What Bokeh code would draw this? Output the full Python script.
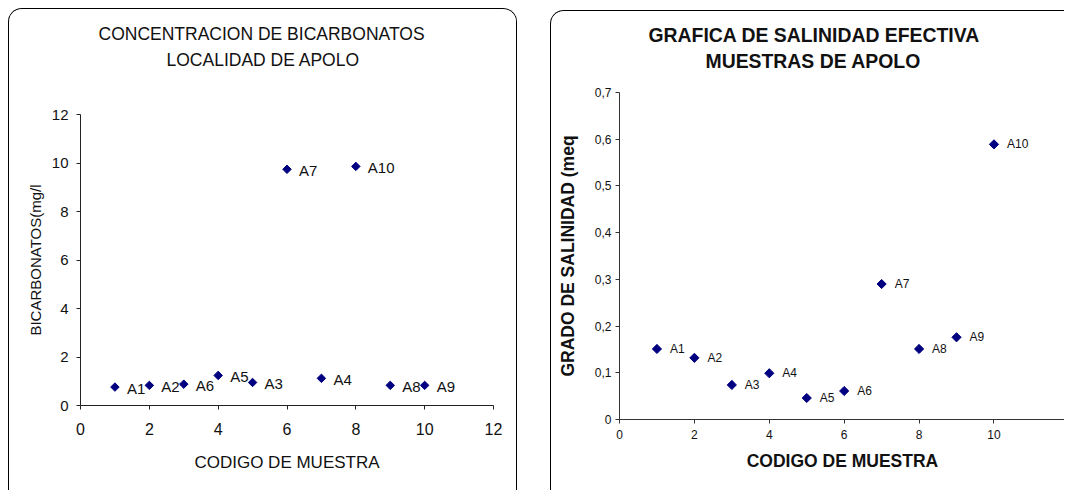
from bokeh.plotting import figure
from bokeh.models import (Range1d, FixedTicker, CustomJSTickFormatter, Title,
                          ColumnDataSource)
from bokeh.embed import file_html
from bokeh.resources import INLINE
from bokeh.core.properties import value

# ---- data: left chart (bicarbonatos) ----
bic_x = [1, 2, 3, 4, 5, 6, 7, 8, 9, 10]
bic_y = [0.76, 0.83, 0.88, 1.24, 0.95, 9.74, 1.12, 9.86, 0.83, 0.83]
bic_labels = ["A1", "A2", "A6", "A5", "A3", "A7", "A4", "A10", "A8", "A9"]
bic_xticks = [0, 2, 4, 6, 8, 10, 12]
bic_yticks = [0, 2, 4, 6, 8, 10, 12]
bic_title = ["CONCENTRACION DE  BICARBONATOS", "LOCALIDAD DE APOLO"]

# ---- data: right chart (salinidad efectiva) ----
sal_x = [1, 2, 3, 4, 5, 6, 7, 8, 9, 10]
sal_y = [0.151, 0.132, 0.074, 0.099, 0.046, 0.061, 0.290, 0.151, 0.176, 0.589]
sal_labels = ["A1", "A2", "A3", "A4", "A5", "A6", "A7", "A8", "A9", "A10"]
sal_xticks = [0, 2, 4, 6, 8, 10, 12]
sal_yticks = [0, 0.1, 0.2, 0.3, 0.4, 0.5, 0.6, 0.7]
sal_title = ["GRAFICA DE SALINIDAD EFECTIVA", "MUESTRAS DE APOLO"]

FONT = "Liberation Sans"
NAVY = "#000080"
TXT = "#111111"


def style_axes(p, tick_standoff_x, tick_standoff_y, axis_col):
    for ax in (p.xaxis[0], p.yaxis[0]):
        ax.axis_line_color = axis_col
        ax.major_tick_line_color = axis_col
        ax.major_tick_out = 4
        ax.major_tick_in = 0
        ax.minor_tick_line_color = None
        ax.major_label_text_font = FONT
        ax.major_label_text_color = TXT
        ax.axis_label_text_font = FONT
        ax.axis_label_text_color = TXT
        ax.axis_label_text_font_style = "normal"
    p.xaxis[0].major_label_standoff = tick_standoff_x
    p.yaxis[0].major_label_standoff = tick_standoff_y
    p.xgrid.grid_line_color = None
    p.ygrid.grid_line_color = None
    p.outline_line_color = None


def add_titles(p, lines, size, style, gap, offsets, standoffs):
    # line 2 is added first (closest to the frame); it is top-aligned in its
    # panel and its bottom padding leaves the band above the plot area
    p.add_layout(Title(text=lines[1], align="left", offset=offsets[1],
                       vertical_align="top", text_font=FONT,
                       text_font_size=size, text_font_style=style,
                       text_color=TXT, standoff=standoffs[1],
                       padding=dict(left=0, right=0, top=0, bottom=gap)),
                 "above")
    p.add_layout(Title(text=lines[0], align="left", offset=offsets[0],
                       text_font=FONT, text_font_size=size,
                       text_font_style=style, text_color=TXT,
                       standoff=standoffs[0]), "above")


# ---------------- left figure ----------------
p1 = figure(width=509, height=482, output_backend="svg", toolbar_location=None,
            x_range=Range1d(0, 12), y_range=Range1d(0, 12),
            min_border_left=71, min_border_right=25, min_border_top=105,
            min_border_bottom=86)
p1.styles = {"position": "absolute", "left": "8px", "top": "8px",
             "border": "1px solid #000", "border-bottom": "none",
             "border-radius": "14px 14px 0 0", "overflow": "hidden",
             "box-sizing": "border-box"}
src1 = ColumnDataSource(dict(x=bic_x, y=bic_y, t=bic_labels))
p1.scatter("x", "y", source=src1, marker="square", angle=0.785398, size=6,
           fill_color=NAVY, line_color=NAVY)
p1.text("x", "y", text="t", source=src1, x_offset=12, y_offset=1,
        text_baseline="middle", text_align="left", text_font=value(FONT),
        text_font_size="15px", text_color=TXT)
style_axes(p1, 13, 8, "#222222")
p1.xaxis.ticker = FixedTicker(ticks=bic_xticks)
p1.yaxis.ticker = FixedTicker(ticks=bic_yticks)
p1.xaxis.major_label_text_font_size = "16px"
p1.yaxis.major_label_text_font_size = "15px"
p1.xaxis.axis_label = "CODIGO DE MUESTRA"
p1.yaxis.axis_label = "BICARBONATOS(mg/l"
p1.xaxis.axis_label_text_font_size = "17px"
p1.yaxis.axis_label_text_font_size = "15px"
p1.xaxis.axis_label_standoff = 15
p1.yaxis.axis_label_standoff = 5
add_titles(p1, bic_title, "17.5px", "normal", 43, [18, 86], [12, 0])

# ---------------- right figure ----------------
p2 = figure(width=514, height=480, output_backend="svg", toolbar_location=None,
            x_range=Range1d(0, 11.91), y_range=Range1d(0, 0.7),
            min_border_left=68, min_border_right=0, min_border_top=81,
            min_border_bottom=72)
p2.styles = {"position": "absolute", "left": "550px", "top": "10px",
             "border": "1px solid #000", "border-bottom": "none",
             "border-right": "none", "border-radius": "14px 0 0 0",
             "overflow": "hidden", "box-sizing": "border-box"}
src2 = ColumnDataSource(dict(x=sal_x, y=sal_y, t=sal_labels))
p2.scatter("x", "y", source=src2, marker="square", angle=0.785398, size=6.5,
           fill_color=NAVY, line_color=NAVY)
p2.text("x", "y", text="t", source=src2, x_offset=13, y_offset=0,
        text_baseline="middle", text_align="left", text_font=value(FONT),
        text_font_size="12px", text_color=TXT)
style_axes(p2, 6, 4, "#333333")
p2.xaxis.ticker = FixedTicker(ticks=sal_xticks)
p2.yaxis.ticker = FixedTicker(ticks=sal_yticks)
p2.yaxis.formatter = CustomJSTickFormatter(
    code="return tick == 0 ? '0' : tick.toFixed(1).replace('.', ',');")
p2.xaxis.major_label_text_font_size = "12px"
p2.yaxis.major_label_text_font_size = "12px"
p2.xaxis.axis_label = "CODIGO DE MUESTRA"
p2.yaxis.axis_label = "GRADO DE SALINIDAD (meq"
p2.xaxis.axis_label_text_font_size = "17.5px"
p2.yaxis.axis_label_text_font_size = "17.5px"
p2.xaxis.axis_label_text_font_style = "bold"
p2.yaxis.axis_label_text_font_style = "bold"
p2.xaxis.axis_label_standoff = 9
p2.yaxis.axis_label_standoff = 14
add_titles(p2, sal_title, "19.4px", "bold", 19, [29, 86], [8, 0])

open("out.html", "w").write(file_html([p1, p2], INLINE))
